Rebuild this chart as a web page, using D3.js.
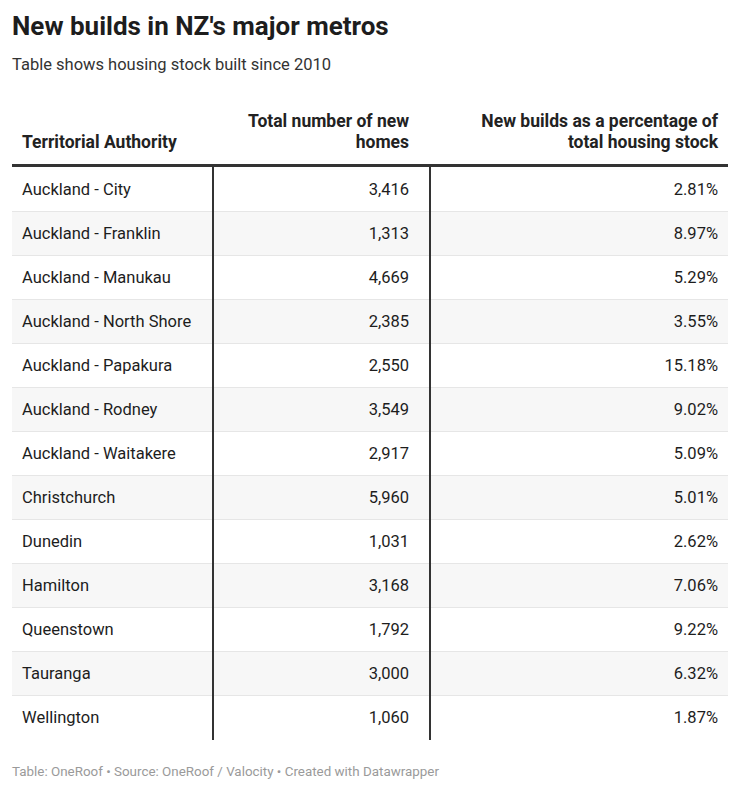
<!DOCTYPE html>
<html>
<head>
<meta charset="utf-8">
<script src="https://cdn.jsdelivr.net/npm/d3@7"></script>
<style>
  html, body { margin: 0; padding: 0; background: #fff; }
  svg { display: block; font-family: Roboto, sans-serif; }
</style>
</head>
<body>
<svg id="chart" width="740" height="812"></svg>
<script>
const title = "New builds in NZ's major metros";
const subtitle = "Table shows housing stock built since 2010";
const footer = "Table: OneRoof • Source: OneRoof / Valocity • Created with Datawrapper";
const headers = [["Territorial Authority"], ["Total number of new", "homes"], ["New builds as a percentage of", "total housing stock"]];
const authorities = ["Auckland - City", "Auckland - Franklin", "Auckland - Manukau", "Auckland - North Shore", "Auckland - Papakura", "Auckland - Rodney", "Auckland - Waitakere", "Christchurch", "Dunedin", "Hamilton", "Queenstown", "Tauranga", "Wellington"];
const newHomes = [3416, 1313, 4669, 2385, 2550, 3549, 2917, 5960, 1031, 3168, 1792, 3000, 1060];
const pctStock = [2.81, 8.97, 5.29, 3.55, 15.18, 9.02, 5.09, 5.01, 2.62, 7.06, 9.22, 6.32, 1.87];

const svg = d3.select("#chart");
const left = 12, right = 728;
const tableTop = 167, rowH = 44;

svg.append("text").attr("x", 12).attr("y", 35)
  .attr("font-size", 26).attr("font-weight", 700).attr("fill", "#1d1d1d").text(title);
svg.append("text").attr("x", 12).attr("y", 70)
  .attr("font-size", 16.5).attr("fill", "#333").text(subtitle);

const y = d3.scaleBand().domain(d3.range(authorities.length))
  .range([tableTop, tableTop + rowH * authorities.length]);

// column boundaries
const colX = [left, 213, 430, right];

// row backgrounds
const rows = svg.append("g");
rows.selectAll("rect").data(authorities).join("rect")
  .attr("x", left).attr("width", right - left)
  .attr("y", (d, i) => y(i)).attr("height", y.bandwidth())
  .attr("fill", (d, i) => i % 2 === 1 ? "#f7f7f7" : "#ffffff");
// row separators
rows.selectAll("line").data(authorities.slice(1)).join("line")
  .attr("x1", left).attr("x2", right)
  .attr("y1", (d, i) => y(i + 1) + 0.5).attr("y2", (d, i) => y(i + 1) + 0.5)
  .attr("stroke", "#e6e6e6").attr("stroke-width", 1);

// header
const hdr = svg.append("g").attr("font-size", 17.5).attr("font-weight", 700).attr("fill", "#222");
const hdrAnchor = ["start", "end", "end"];
const hdrX = [22, 409, 718];
headers.forEach((lines, c) => {
  lines.forEach((ln, j) => {
    hdr.append("text")
      .attr("x", hdrX[c])
      .attr("y", 148 - (lines.length - 1 - j) * 21)
      .attr("text-anchor", hdrAnchor[c])
      .attr("fill", "#222")
      .text(ln);
  });
});

// header rule
svg.append("line").attr("x1", left).attr("x2", right)
  .attr("y1", tableTop - 1.5).attr("y2", tableTop - 1.5)
  .attr("stroke", "#333").attr("stroke-width", 3);

// cells
const fmtInt = d3.format(",");
const fmtPct = d => d3.format(".2f")(d) + "%";
const body = svg.append("g").attr("font-size", 16.5).attr("fill", "#1d1d1d");
body.selectAll("text.a").data(authorities).join("text").attr("class", "a")
  .attr("x", 22).attr("y", (d, i) => y(i) + y.bandwidth() / 2 + 6)
  .text(d => d);
body.selectAll("text.n").data(newHomes).join("text").attr("class", "n")
  .attr("x", 409).attr("text-anchor", "end")
  .attr("y", (d, i) => y(i) + y.bandwidth() / 2 + 6)
  .text(d => fmtInt(d));
body.selectAll("text.p").data(pctStock).join("text").attr("class", "p")
  .attr("x", 718).attr("text-anchor", "end")
  .attr("y", (d, i) => y(i) + y.bandwidth() / 2 + 6)
  .text(d => fmtPct(d));

// vertical rules
const yEnd = y(authorities.length - 1) + y.bandwidth() + 1;
svg.selectAll("line.v").data([colX[1], colX[2]]).join("line").attr("class", "v")
  .attr("x1", d => d).attr("x2", d => d)
  .attr("y1", tableTop).attr("y2", yEnd)
  .attr("stroke", "#333").attr("stroke-width", 2);

svg.append("text").attr("x", 12).attr("y", 776)
  .attr("font-size", 13.4).attr("fill", "#9a9a9a").text(footer);
</script>
</body>
</html>
